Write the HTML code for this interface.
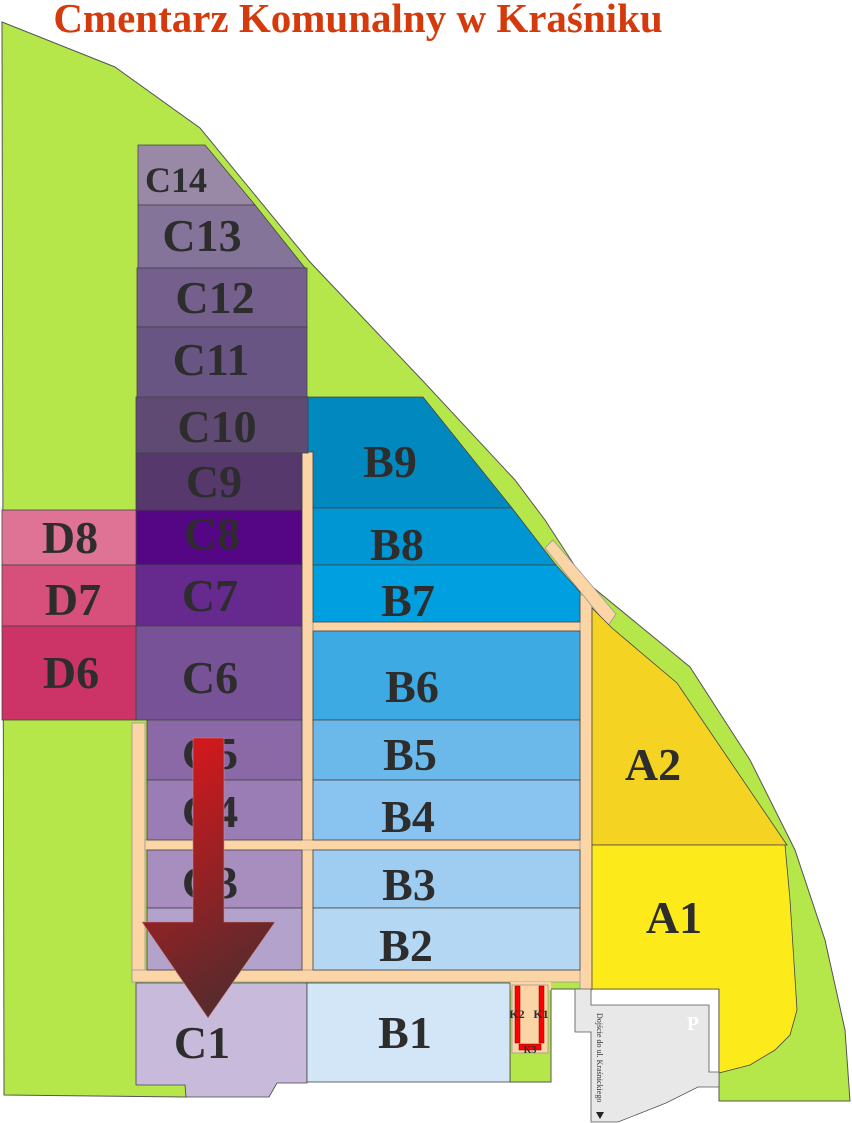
<!DOCTYPE html>
<html><head><meta charset="utf-8"><style>
html,body{margin:0;padding:0;background:#fff;}
svg{display:block;}
.l{font-family:"Liberation Serif",serif;font-weight:bold;fill:#2d2d2d;text-anchor:middle;}
</style></head><body>
<svg width="852" height="1123" viewBox="0 0 852 1123" xmlns="http://www.w3.org/2000/svg">
<defs>
<linearGradient id="ag" x1="0" y1="0" x2="0.3" y2="1">
<stop offset="0" stop-color="#e3161a"/><stop offset="1" stop-color="#5b2a2c"/>
</linearGradient>
</defs>
<text x="358" y="32" font-family="Liberation Serif,serif" font-weight="bold" font-size="41" fill="#d43a0b" text-anchor="middle">Cmentarz Komunalny w Kraśniku</text>

<!-- green -->
<polygon points="2,22 115,67 200,128 310,262 422,380 515,480 545,520 584,580 690,667 750,760 795,850 825,940 845,1030 850,1101 719,1101 719,989 551,989 551,1082 510,1082 510,985 186,985 186,1097 4,1095" fill="#b5e64a" stroke="#555" stroke-width="1"/>

<!-- roads -->
<g fill="#fbd5a6" stroke="#999" stroke-width="0.8">
<rect x="302" y="452" width="11" height="530"/>
<rect x="132" y="723" width="13" height="259"/>
<rect x="132" y="970" width="460" height="12"/>
<rect x="145" y="840" width="447" height="10"/>
<rect x="313" y="622" width="279" height="9"/>
<rect x="580" y="595" width="12" height="395"/>
<polygon points="545,548 553,540 616,614 608,626"/>
<rect x="510" y="982" width="41" height="8" stroke="none"/>
<rect x="512" y="985" width="36" height="68"/>
</g>

<!-- C column -->
<g stroke="#444" stroke-width="0.8">
<polygon points="138,145 205,145 255,205 138,205" fill="#9a89a6"/>
<polygon points="138,205 255,205 305,268 138,268" fill="#85749a"/>
<rect x="137" y="268" width="170" height="59" fill="#745f8d"/>
<rect x="137" y="327" width="170" height="70" fill="#685583"/>
<rect x="136" y="397" width="172" height="56" fill="#5e4a72"/>
<rect x="136" y="453" width="166" height="57" fill="#57386c"/>
<rect x="136" y="510" width="166" height="55" fill="#550684"/>
<rect x="136" y="565" width="166" height="61" fill="#66298d"/>
<rect x="136" y="626" width="166" height="94" fill="#775296"/>
<rect x="147" y="720" width="155" height="60" fill="#8a69a6"/>
<rect x="147" y="780" width="155" height="60" fill="#9b7db6"/>
<rect x="147" y="850" width="155" height="58" fill="#a78ebf"/>
<rect x="147" y="908" width="155" height="62" fill="#b3a2cc"/>
<polygon points="136,983 307,983 307,1083 277,1083 269,1097 186,1097 185,1085 136,1085" fill="#c8badb"/>
<rect x="2" y="510" width="134" height="55" fill="#df7396"/>
<rect x="2" y="565" width="134" height="61" fill="#d6507b"/>
<rect x="2" y="626" width="134" height="94" fill="#cc3366"/>
<!-- B -->
<polygon points="308,397 423,397 512,508 313,508 313,452 308,452" fill="#0088bf"/>
<polygon points="313,508 512,508 552,560 556,565 313,565" fill="#0096d4"/>
<polygon points="313,565 556,565 580,592 580,622 313,622" fill="#009fdf"/>
<rect x="313" y="631" width="267" height="89" fill="#3eaae4"/>
<rect x="313" y="720" width="267" height="60" fill="#6bb9ea"/>
<rect x="313" y="780" width="267" height="60" fill="#89c3ef"/>
<rect x="313" y="850" width="267" height="58" fill="#9fcdf2"/>
<rect x="313" y="908" width="267" height="62" fill="#b4d7f4"/>
<rect x="307" y="983" width="203" height="99" fill="#d2e6f8"/>
<!-- A -->
<polygon points="592,608 612,628 677,683 787,845 592,845" fill="#f5d322"/>
<polygon points="592,845 785,845 790,900 797,1010 790,1035 775,1050 750,1065 719,1073 719,989 592,989" fill="#fdea1b"/>
<!-- parking -->
<polygon points="575,989 591,989 591,1005 709,1005 709,1072 719,1072 719,1087 698,1087 666,1103 618,1122 591,1122 591,1032 575,1032" fill="#e8e8e8" stroke="#555"/>
</g>
<text x="693" y="1030" font-family="Liberation Serif,serif" font-weight="bold" font-size="20" fill="#fff" text-anchor="middle">P</text>
<text transform="translate(597,1013) rotate(90)" font-family="Liberation Serif,serif" font-size="8" fill="#333">Dojście do ul. Kraśnickiego</text>
<polygon points="596,1112 604,1112 600,1119" fill="#222"/>

<!-- K -->
<rect x="515" y="986" width="5" height="57" fill="#f00" stroke="#800" stroke-width="0.5"/>
<rect x="539" y="986" width="5" height="57" fill="#f00" stroke="#800" stroke-width="0.5"/>
<rect x="519" y="1044" width="22" height="6" fill="#f00" stroke="#800" stroke-width="0.5"/>
<text x="517" y="1018" class="l" font-size="12">K2</text>
<text x="541" y="1018" class="l" font-size="12">K1</text>
<text x="530" y="1053" class="l" font-size="10">K3</text>

<!-- labels -->
<g class="l" font-size="46">
<text x="176" y="192" font-size="36">C14</text>
<text x="202" y="251">C13</text>
<text x="215" y="313">C12</text>
<text x="211" y="375">C11</text>
<text x="217" y="442">C10</text>
<text x="214" y="497">C9</text>
<text x="212" y="549">C8</text>
<text x="210" y="611">C7</text>
<text x="210" y="693">C6</text>
<text x="210" y="769">C5</text>
<text x="210" y="827">C4</text>
<text x="210" y="898">C3</text>
<text x="202" y="1058">C1</text>
<text x="70" y="553">D8</text>
<text x="73" y="615">D7</text>
<text x="71" y="688">D6</text>
<text x="390" y="477">B9</text>
<text x="397" y="560">B8</text>
<text x="408" y="616">B7</text>
<text x="412" y="702">B6</text>
<text x="410" y="770">B5</text>
<text x="408" y="832">B4</text>
<text x="409" y="900">B3</text>
<text x="406" y="961">B2</text>
<text x="405" y="1048">B1</text>
<text x="653" y="780">A2</text>
<text x="674" y="933">A1</text>
</g>

<!-- arrow -->
<polygon points="193,738 224,738 224,922 275,922 208,1018 142,922 193,922" fill="url(#ag)" stroke="#c88" stroke-width="0.6"/>
</svg>
</body></html>
